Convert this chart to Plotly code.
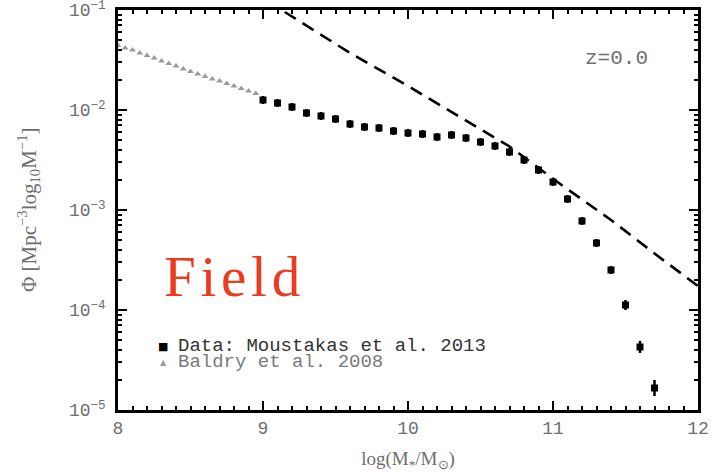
import numpy as np
import plotly.graph_objects as go

# Stellar mass function of field galaxies at z = 0

# Moustakas et al. 2013 (log stellar mass, log phi, error in dex)
mous_logm = [9.0, 9.1, 9.2, 9.3, 9.4, 9.5, 9.6, 9.7, 9.8, 9.9,
             10.0, 10.1, 10.2, 10.3, 10.4, 10.5, 10.6, 10.7, 10.8, 10.9,
             11.0, 11.1, 11.2, 11.3, 11.4, 11.5, 11.6, 11.7]
mous_logphi = [-1.90, -1.93, -1.97, -2.03, -2.06, -2.09, -2.14, -2.17, -2.18, -2.21,
               -2.23, -2.24, -2.27, -2.25, -2.28, -2.32, -2.36, -2.42, -2.50, -2.60,
               -2.72, -2.89, -3.11, -3.33, -3.60, -3.95, -4.37, -4.78]
mous_err = [0.04, 0.04, 0.04, 0.04, 0.04, 0.04, 0.04, 0.04, 0.04, 0.04,
            0.04, 0.04, 0.04, 0.04, 0.04, 0.04, 0.04, 0.04, 0.04, 0.04,
            0.04, 0.04, 0.04, 0.04, 0.04, 0.05, 0.06, 0.08]

# Baldry et al. 2008 low-mass end
bald_logm = [8.00, 8.05, 8.10, 8.15, 8.20, 8.25, 8.30, 8.35, 8.40, 8.45,
             8.50, 8.55, 8.60, 8.65, 8.70, 8.75, 8.80, 8.85, 8.90, 8.95]
bald_logphi = [-1.355, -1.38, -1.40, -1.43, -1.455, -1.48, -1.51, -1.535, -1.56, -1.59,
               -1.615, -1.64, -1.665, -1.69, -1.71, -1.735, -1.76, -1.785, -1.81, -1.835]

# Halo-scaled reference curve (dashed)
curve_logm = [9.15, 9.60, 10.00, 10.35, 10.70, 11.05, 11.40, 11.75, 12.00]
curve_logphi = [-1.02, -1.43, -1.76, -2.06, -2.365, -2.74, -3.10, -3.49, -3.76]

y_tickvals = [1e-5, 1e-4, 1e-3, 1e-2, 1e-1]
y_ticktext = ["10<sup>−5</sup>", "10<sup>−4</sup>", "10<sup>−3</sup>",
              "10<sup>−2</sup>", "10<sup>−1</sup>"]
x_tickvals = [8, 9, 10, 11, 12]
x_ticktext = ["8", "9", "10", "11", "12"]

# minor log ticks at 2..9 within each decade
y_minor = [k * 10.0 ** n for n in range(-5, -1) for k in range(2, 10)]

mous_phi = 10 ** np.array(mous_logphi)
mous_e = np.array(mous_err)
err_plus = mous_phi * (10 ** mous_e - 1)
err_minus = mous_phi * (1 - 10 ** (-mous_e))

TICK_FONT = dict(family="Liberation Mono", size=18, color="#6e6e6e")
GREY = "#9a9a9a"

fig = go.Figure()

fig.add_trace(go.Scatter(
    x=bald_logm, y=10 ** np.array(bald_logphi), mode="markers",
    marker=dict(symbol="triangle-up", size=6, color=GREY),
    showlegend=False,
))

fig.add_trace(go.Scatter(
    x=curve_logm, y=10 ** np.array(curve_logphi), mode="lines",
    line=dict(color="black", width=2.6, dash="13px,8px"),
    showlegend=False,
))

fig.add_trace(go.Scatter(
    x=mous_logm, y=mous_phi, mode="markers",
    marker=dict(symbol="square", size=7, color="black"),
    error_y=dict(type="data", symmetric=False, array=err_plus, arrayminus=err_minus,
                 color="black", thickness=2.5, width=0),
    showlegend=False,
))

axis_common = dict(
    showline=True, linecolor="black", linewidth=2.5, mirror="ticks",
    ticks="inside", ticklen=9, tickwidth=2, tickcolor="black",
    showgrid=False, zeroline=False, tickfont=TICK_FONT, automargin=False,
    ticklabeloverflow="allow",
)

fig.update_xaxes(
    range=[8, 12], tickvals=x_tickvals, ticktext=x_ticktext,
    minor=dict(ticks="inside", dtick=0.1, ticklen=4, tickwidth=1.5,
               tickcolor="black", showgrid=False),
    ticklabelstandoff=0,
    title=dict(text="log(M<sub>*</sub>/M<sub>⊙</sub>)",
               font=dict(family="Liberation Serif", size=19, color="#6e6e6e"),
               standoff=14),
    **axis_common,
)

fig.update_yaxes(
    type="log", range=[-5, -1], tickvals=y_tickvals, ticktext=y_ticktext,
    minor=dict(ticks="inside", tickvals=y_minor, ticklen=4, tickwidth=1.5,
               tickcolor="black", showgrid=False),
    ticklabelstandoff=6,
    **axis_common,
)

annotations = [
    dict(text="Φ [Mpc<sup>−3</sup>log<sub>10</sub>M<sup>−1</sup>]",
         x=-0.155, y=0.5, xref="paper", yref="paper", textangle=-90,
         xanchor="center", yanchor="middle", showarrow=False,
         font=dict(family="Liberation Serif", size=21, color="#6e6e6e")),
    dict(text="F\u200ai\u200ae\u200al\u200ad", x=0.075, y=0.333, xref="paper", yref="paper",
         xanchor="left", yanchor="middle", showarrow=False,
         font=dict(family="Liberation Serif", size=57, color="#ee3a1f")),
    dict(text="z=0.0", x=0.917, y=0.88, xref="paper", yref="paper",
         xanchor="right", yanchor="middle", showarrow=False,
         font=dict(family="Liberation Mono", size=21, color="#6e6e6e")),
    dict(text="■", x=0.078, y=0.16, xref="paper", yref="paper",
         xanchor="center", yanchor="middle", showarrow=False,
         font=dict(family="DejaVu Sans", size=11, color="black")),
    dict(text="Data: Moustakas et al. 2013", x=0.10, y=0.16, xref="paper", yref="paper",
         xanchor="left", yanchor="middle", showarrow=False,
         font=dict(family="Liberation Mono", size=19, color="#333333")),
    dict(text="▲", x=0.078, y=0.12, xref="paper", yref="paper",
         xanchor="center", yanchor="middle", showarrow=False,
         font=dict(family="DejaVu Sans", size=8, color=GREY)),
    dict(text="Baldry et al. 2008", x=0.10, y=0.12, xref="paper", yref="paper",
         xanchor="left", yanchor="middle", showarrow=False,
         font=dict(family="Liberation Mono", size=19, color="#7a7a7a")),
]

fig.update_layout(
    width=717, height=474,
    margin=dict(l=118, r=19, t=10, b=64),
    paper_bgcolor="white", plot_bgcolor="white",
    annotations=annotations,
    showlegend=False,
)

fig.write_html("out.html")
